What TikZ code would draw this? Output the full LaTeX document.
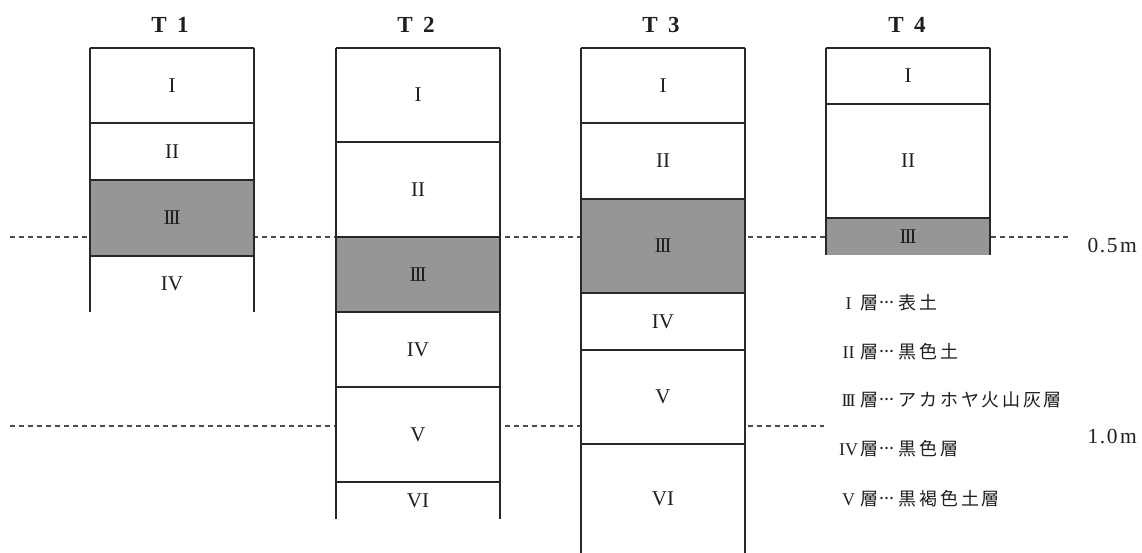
\documentclass[tikz,border=0pt]{standalone}
\usepackage{fontspec}
\newfontfamily\jp[LetterSpace=15]{Noto Sans CJK JP}
\newfontfamily\numfont{Liberation Serif}
\definecolor{shadec}{RGB}{150,150,150}
\definecolor{linec}{RGB}{40,40,40}
\newcommand{\rIII}{I\kern-2pt I\kern-2pt I}
\newcommand{\onedot}{\raisebox{5.5pt}{.}}
\newcommand{\leaderdots}{\hspace{1.5pt}\makebox[15pt][s]{\onedot\hfil\onedot\hfil\onedot}\hspace{4.2pt}}
\begin{document}
\begin{tikzpicture}[x=1pt,y=-1pt,
  layer/.style={fill=white, draw=none, inner sep=0pt, outer sep=0pt, minimum width=164pt,
    font=\numfont\fontsize{21}{21}\selectfont, text=black!88},
  shaded/.style={layer, fill=shadec},
  colline/.style={draw=linec, line width=1.3pt},
  depthline/.style={draw=black!70, line width=1.1pt, dash pattern=on 5pt off 4pt},
  title/.style={font=\numfont\bfseries\fontsize{23}{23}\selectfont, inner sep=0pt, text=black!88},
  legend/.style={anchor=base west, inner sep=0pt, font=\fontsize{18}{18}\selectfont, text=black!88},
  depthlabel/.style={anchor=base east, inner sep=0pt, font=\numfont\fontsize{21.5}{21.5}\selectfont, text=black!88}
]
\useasboundingbox (0,0) rectangle (1142,553);

% depth reference lines
\coordinate (d5a) at (10,237);
\coordinate (d5b) at (1069,237);
\coordinate (d10a) at (10,426);
\coordinate (d10b) at (824,426);
\draw[depthline] (d5a) -- (d5b);
\draw[depthline] (d10a) -- (d10b);
\node[depthlabel] (m05) at (1137,253) {0\kern1.5pt.\kern1.5pt5\kern2.5pt m};
\node[depthlabel] (m10) at (1137,443) {1\kern1.5pt.\kern1.5pt0\kern2.5pt m};

% titles
\node[title] (ti1) at (170,25) {T\hspace{0.45em}1};
\node[title] (ti2) at (416,25) {T\hspace{0.45em}2};
\node[title] (ti3) at (661,25) {T\hspace{0.45em}3};
\node[title] (ti4) at (907,25) {T\hspace{0.45em}4};

% T1
\node[layer,  minimum height=75pt] (t1a) at (172,85.5) {I};
\node[layer,  minimum height=57pt] (t1b) at (172,151.5) {II};
\node[shaded, minimum height=76pt] (t1c) at (172,218) {\rIII};
\node[layer,  minimum height=56pt] (t1d) at (172,284) {IV};
\draw[colline] (t1a.north west) -- (t1d.south west);
\draw[colline] (t1a.north east) -- (t1d.south east);
\draw[colline] (t1a.north west) -- (t1a.north east);
\draw[colline] (t1a.south west) -- (t1a.south east);
\draw[colline] (t1b.south west) -- (t1b.south east);
\draw[colline] (t1c.south west) -- (t1c.south east);

% T2
\node[layer,  minimum height=94pt] (t2a) at (418,95) {I};
\node[layer,  minimum height=95pt] (t2b) at (418,189.5) {II};
\node[shaded, minimum height=75pt] (t2c) at (418,274.5) {\rIII};
\node[layer,  minimum height=75pt] (t2d) at (418,349.5) {IV};
\node[layer,  minimum height=95pt] (t2e) at (418,434.5) {V};
\node[layer,  minimum height=37pt] (t2f) at (418,500.5) {\raisebox{-6pt}{VI}};
\draw[colline] (t2a.north west) -- (t2f.south west);
\draw[colline] (t2a.north east) -- (t2f.south east);
\draw[colline] (t2a.north west) -- (t2a.north east);
\draw[colline] (t2a.south west) -- (t2a.south east);
\draw[colline] (t2b.south west) -- (t2b.south east);
\draw[colline] (t2c.south west) -- (t2c.south east);
\draw[colline] (t2d.south west) -- (t2d.south east);
\draw[colline] (t2e.south west) -- (t2e.south east);

% T3
\node[layer,  minimum height=75pt] (t3a) at (663,85.5) {I};
\node[layer,  minimum height=76pt] (t3b) at (663,161) {II};
\node[shaded, minimum height=94pt] (t3c) at (663,246) {\rIII};
\node[layer,  minimum height=57pt] (t3d) at (663,321.5) {IV};
\node[layer,  minimum height=94pt] (t3e) at (663,397) {V};
\node[layer,  minimum height=109pt] (t3f) at (663,498.5) {VI};
\draw[colline] (t3a.north west) -- (t3f.south west);
\draw[colline] (t3a.north east) -- (t3f.south east);
\draw[colline] (t3a.north west) -- (t3a.north east);
\draw[colline] (t3a.south west) -- (t3a.south east);
\draw[colline] (t3b.south west) -- (t3b.south east);
\draw[colline] (t3c.south west) -- (t3c.south east);
\draw[colline] (t3d.south west) -- (t3d.south east);
\draw[colline] (t3e.south west) -- (t3e.south east);

% T4
\node[layer,  minimum height=56pt] (t4a) at (908,76) {I};
\node[layer,  minimum height=114pt] (t4b) at (908,161) {II};
\node[shaded, minimum height=37pt] (t4c) at (908,236.5) {\raisebox{-5pt}{\rIII}};
\draw[colline] (t4a.north west) -- (t4c.south west);
\draw[colline] (t4a.north east) -- (t4c.south east);
\draw[colline] (t4a.north west) -- (t4a.north east);
\draw[colline] (t4a.south west) -- (t4a.south east);
\draw[colline] (t4b.south west) -- (t4b.south east);

% legend
\newcommand{\lnum}[1]{\makebox[14pt][c]{\numfont\fontsize{18}{18}\selectfont #1}\hspace{4.5pt}}
\node[legend] (lg1) at (841.5,309) {\lnum{I}\jp 層\leaderdots 表土};
\node[legend] (lg2) at (841.5,358) {\lnum{II}\jp 層\leaderdots 黒色土};
\node[legend] (lg3) at (841.5,406) {\lnum{\rIII}\jp 層\leaderdots アカホヤ火山灰層};
\node[legend] (lg4) at (841.5,455) {\lnum{IV}\jp 層\leaderdots 黒色層};
\node[legend] (lg5) at (841.5,505) {\lnum{V}\jp 層\leaderdots 黒褐色土層};
\end{tikzpicture}
\end{document}
